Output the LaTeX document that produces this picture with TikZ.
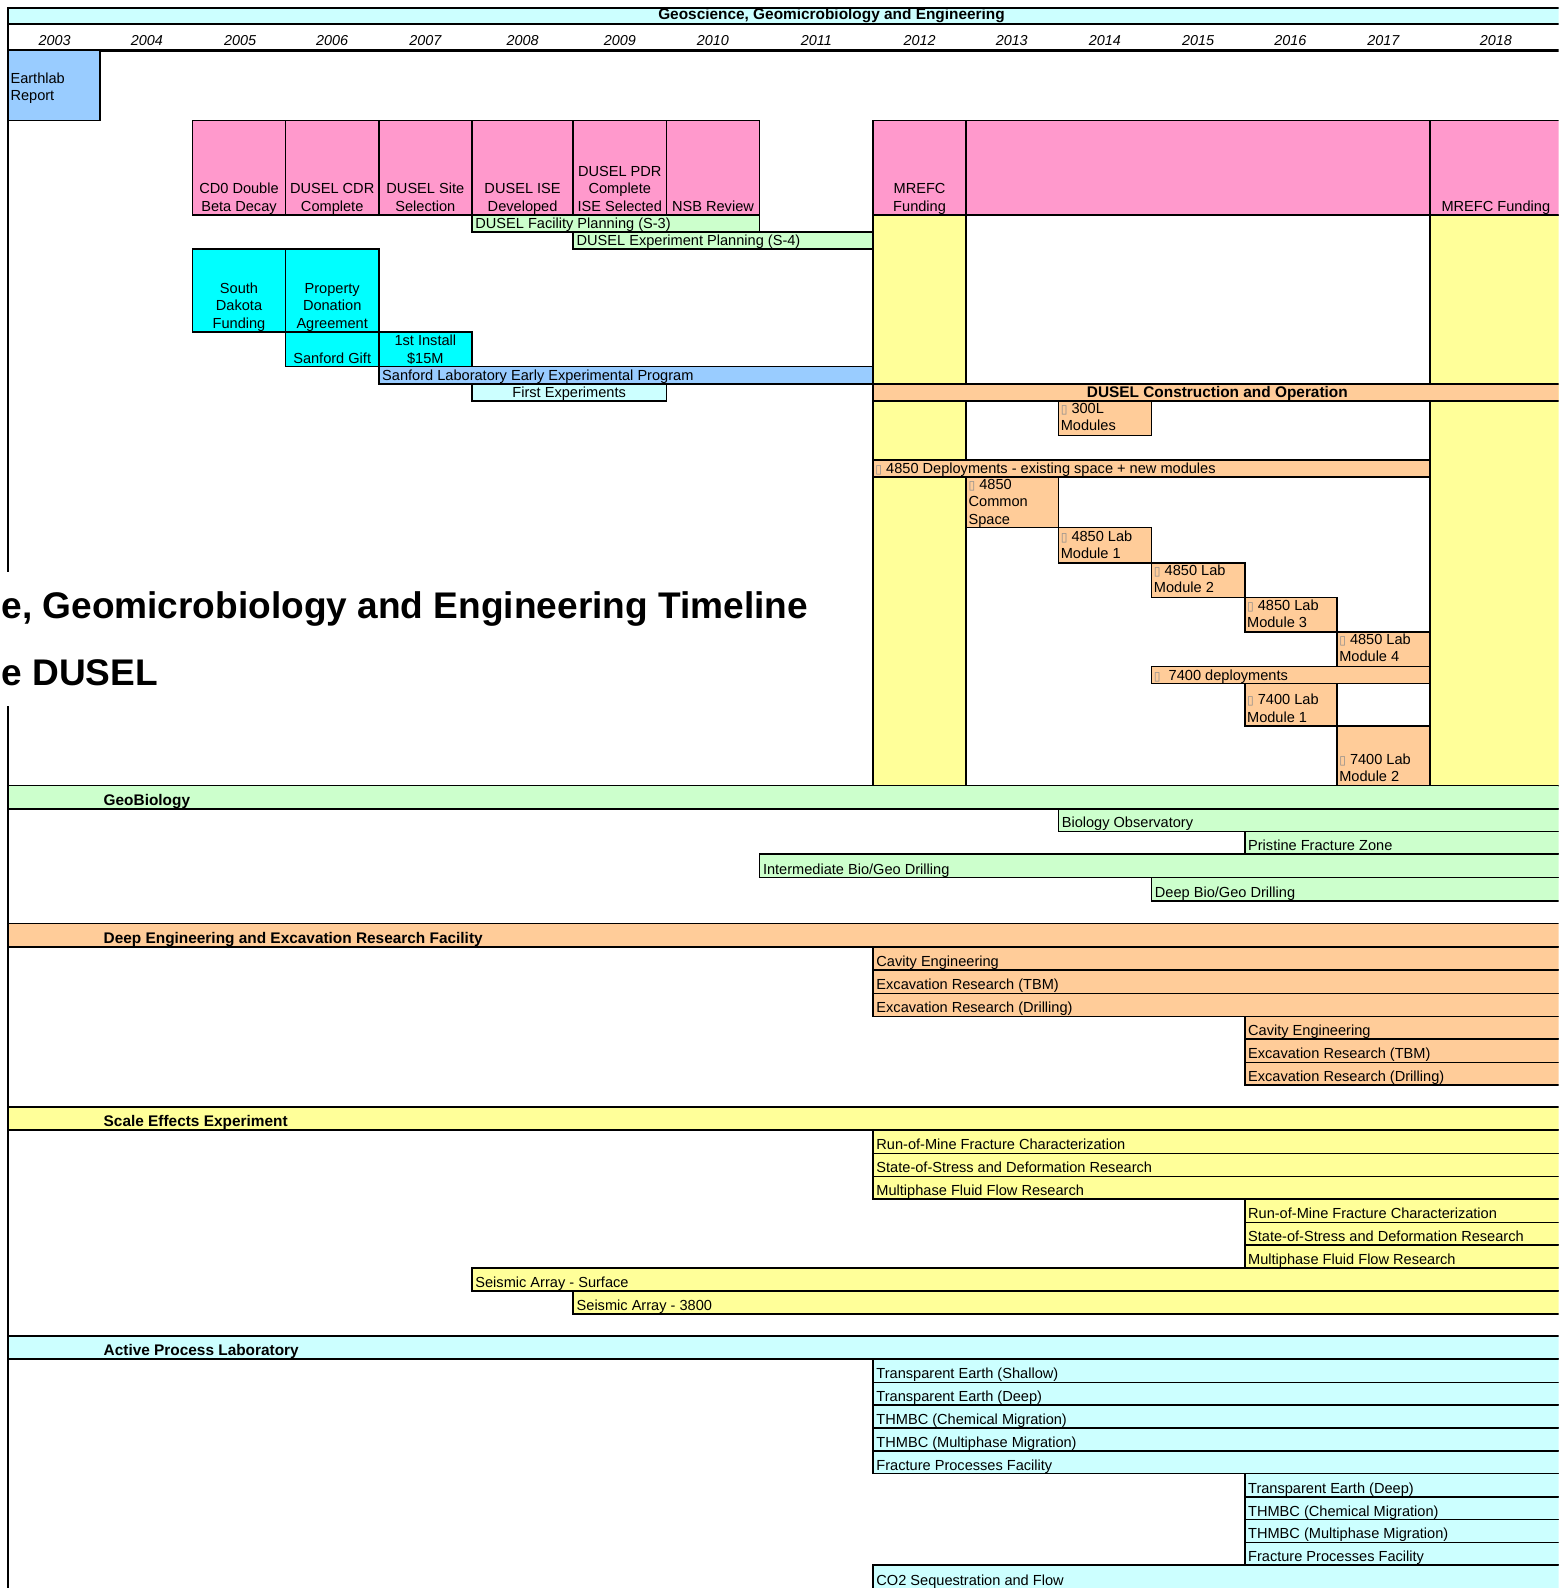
\documentclass[tikz,border=0pt]{standalone}
\usepackage{fontspec}
\setmainfont{Liberation Sans}
\newfontfamily\djv{DejaVu Sans}
\definecolor{ltcyan}{HTML}{CCFFFF}
\definecolor{pinkc}{HTML}{FF99CC}
\definecolor{ltblue}{HTML}{99CCFF}
\definecolor{cyanc}{HTML}{00FFFF}
\definecolor{ltgreen}{HTML}{CCFFCC}
\definecolor{yel}{HTML}{FFFF99}
\definecolor{peach}{HTML}{FFCC99}
\newcommand\tofu{{\djv\color{black!45}\fontsize{6}{6}\selectfont\symbol{"25AF}}}
\tikzset{
  lbl/.style={inner sep=0pt, font=\fontsize{7.2}{8.5}\selectfont},
  hdr/.style={inner sep=0pt, font=\fontsize{7.6}{8.5}\selectfont\bfseries},
  yrs/.style={inner sep=0pt, font=\fontsize{7.1}{8.5}\selectfont\itshape},
  bigtitle/.style={inner sep=0pt, font=\fontsize{18.3}{22}\selectfont\bfseries},
  bx/.style={draw=black, line width=0.8pt},
}
\newcommand\mlines[5]{%
  \foreach \tx [count=\ii from 0] in {#5}{%
    \node[lbl, anchor=#2] (#1\ii) at (#3,#4+17*\ii) {\tx};}}
\newcommand\tlrow[6]{%
  \path[bx, fill=#5] (#2,#3) rectangle (1550,#4);
  \node[lbl, anchor=base west] (#1) at (#2+3,#4-3.5) {#6};}
\newcommand\tlhead[5]{%
  \path[bx, fill=#4] (8,#2) rectangle (1550,#3);
  \node[hdr, anchor=base west] (#1) at (102,#3-3.5) {#5};}
\begin{document}
\begin{tikzpicture}[x=0.5pt,y=-0.5pt]
\clip (0,0) rectangle (1539,1568);
\fill[white] (0,0) rectangle (1539,1568);
% title band and years
\path[bx, fill=ltcyan] (8,8) rectangle (1550,24);
\node[hdr, anchor=base] (ttl) at (821,19.5) {Geoscience, Geomicrobiology and Engineering};
\foreach \yr/\cx in {2003/54,2004/145,2005/237,2006/328,2007/420,2008/516,2009/612,2010/704,2011/806,2012/908,2013/999,2014/1091,2015/1183,2016/1274,2017/1366,2018/1477}
  \node[yrs, anchor=base] (y\yr) at (\cx,45) {\yr};
\draw[line width=1.3pt] (8,50) -- (1550,50);
\draw[line width=0.8pt] (8,8) -- (8,1570);
% Earthlab
\path[bx, fill=ltblue] (8,50) rectangle (99,119);
\mlines{earth}{base west}{10}{82.5}{Earthlab,Report}
% pink milestones
\foreach \a/\b in {190/282,282/374,374/466,466/566,566/658,658/750}
  \path[bx, fill=pinkc] (\a,119) rectangle (\b,212);
\mlines{cd}{base}{236}{191.5}{CD0 Double,Beta Decay}
\mlines{cdr}{base}{328}{191.5}{DUSEL CDR,Complete}
\mlines{site}{base}{420}{191.5}{DUSEL Site,Selection}
\mlines{ise}{base}{516}{191.5}{DUSEL ISE,Developed}
\mlines{pdr}{base}{612}{174.5}{DUSEL PDR,Complete,ISE Selected}
\mlines{nsb}{base}{704}{208.5}{NSB Review}
% planning bars
\path[bx, fill=ltgreen] (466,212) rectangle (750,229);
\node[lbl, anchor=base west] (fac) at (469,225.5) {DUSEL Facility Planning (S-3)};
\path[bx, fill=ltgreen] (566,229) rectangle (862,246);
\node[lbl, anchor=base west] (exp) at (569,242.5) {DUSEL Experiment Planning (S-4)};
% cyan boxes
\path[bx, fill=cyanc] (190,246) rectangle (282,328);
\path[bx, fill=cyanc] (282,246) rectangle (374,328);
\mlines{sd}{base}{236}{290}{South,Dakota,Funding}
\mlines{prop}{base}{328}{290}{Property,Donation,Agreement}
\path[bx, fill=cyanc] (282,328) rectangle (374,362);
\path[bx, fill=cyanc] (374,328) rectangle (466,362);
\mlines{gift}{base}{328}{358.5}{Sanford Gift}
\mlines{inst}{base}{420}{341.5}{1st Install,\$15M}
\path[bx, fill=ltblue] (374,362) rectangle (862,379);
\node[lbl, anchor=base west] (sle) at (377,375.5) {Sanford Laboratory Early Experimental Program};
\path[bx, fill=ltcyan] (466,379) rectangle (658,396);
\node[lbl, anchor=base] (fe) at (562,392.5) {First Experiments};
% right panel
\path[bx, fill=yel] (862,212) rectangle (954,776);
\path[bx, fill=yel] (1412,212) rectangle (1550,776);
\path[bx] (954,212) rectangle (1412,776);
\path[bx, fill=pinkc] (862,119) rectangle (954,212);
\path[bx, fill=pinkc] (954,119) rectangle (1412,212);
\path[bx, fill=pinkc] (1412,119) rectangle (1550,212);
\mlines{mref}{base}{908}{191.5}{MREFC,Funding}
\mlines{mreg}{base}{1477}{208.5}{MREFC Funding}
\path[bx, fill=peach] (862,379) rectangle (1550,396);
\node[hdr, anchor=base] (dco) at (1202,392.5) {DUSEL Construction and Operation};
\path[bx, fill=peach] (1045,396) rectangle (1137,430);
\mlines{l300}{base west}{1047}{408.5}{\tofu\ 300L,Modules}
\path[bx, fill=peach] (862,454) rectangle (1412,471);
\node[lbl, anchor=base west] (dep) at (864,467.5) {\tofu\ 4850 Deployments - existing space + new modules};
\path[bx, fill=peach] (954,471) rectangle (1045,521);
\mlines{cs}{base west}{956}{483.5}{\tofu\ 4850,Common,Space}
\path[bx, fill=peach] (1045,521) rectangle (1137,556);
\mlines{ma}{base west}{1047}{534.5}{\tofu\ 4850 Lab,Module 1}
\path[bx, fill=peach] (1137,556) rectangle (1229,590);
\mlines{mb}{base west}{1139}{568.5}{\tofu\ 4850 Lab,Module 2}
\path[bx, fill=peach] (1229,590) rectangle (1320,624);
\mlines{mc}{base west}{1231}{602.5}{\tofu\ 4850 Lab,Module 3}
\path[bx, fill=peach] (1320,624) rectangle (1412,658);
\mlines{md}{base west}{1322}{636.5}{\tofu\ 4850 Lab,Module 4}
\path[bx, fill=peach] (1137,658) rectangle (1412,675);
\node[lbl, anchor=base west] (d74) at (1139,671.5) {\tofu\ \ 7400 deployments};
\path[bx, fill=peach] (1229,675) rectangle (1320,717);
\mlines{na}{base west}{1231}{696}{\tofu\ 7400 Lab,Module 1}
\path[bx, fill=peach] (1320,717) rectangle (1412,776);
\mlines{nb}{base west}{1322}{754.5}{\tofu\ 7400 Lab,Module 2}
% GeoBiology
\tlhead{hgb}{775.5}{798.5}{ltgreen}{GeoBiology}
\tlrow{gb1}{1045}{798.5}{821}{ltgreen}{Biology Observatory}
\tlrow{gb2}{1229}{821}{843.5}{ltgreen}{Pristine Fracture Zone}
\tlrow{gb3}{750}{843.5}{866.5}{ltgreen}{Intermediate Bio/Geo Drilling}
\tlrow{gb4}{1137}{866.5}{889.5}{ltgreen}{Deep Bio/Geo Drilling}
% Deep engineering
\tlhead{hde}{912}{935}{peach}{Deep Engineering and Excavation Research Facility}
\tlrow{de1}{862}{935}{958}{peach}{Cavity Engineering}
\tlrow{de2}{862}{958}{981}{peach}{Excavation Research (TBM)}
\tlrow{de3}{862}{981}{1003.5}{peach}{Excavation Research (Drilling)}
\tlrow{de4}{1229}{1003.5}{1026}{peach}{Cavity Engineering}
\tlrow{de5}{1229}{1026}{1049}{peach}{Excavation Research (TBM)}
\tlrow{de6}{1229}{1049}{1071.5}{peach}{Excavation Research (Drilling)}
% Scale effects
\tlhead{hse}{1093}{1116}{yel}{Scale Effects Experiment}
\tlrow{se1}{862}{1116}{1139}{yel}{Run-of-Mine Fracture Characterization}
\tlrow{se2}{862}{1139}{1161.5}{yel}{State-of-Stress and Deformation Research}
\tlrow{se3}{862}{1161.5}{1184}{yel}{Multiphase Fluid Flow Research}
\tlrow{se4}{1229}{1184}{1207}{yel}{Run-of-Mine Fracture Characterization}
\tlrow{se5}{1229}{1207}{1229.5}{yel}{State-of-Stress and Deformation Research}
\tlrow{se6}{1229}{1229.5}{1252}{yel}{Multiphase Fluid Flow Research}
\tlrow{se7}{466}{1252}{1275}{yel}{Seismic Array - Surface}
\tlrow{se8}{566}{1275}{1297.5}{yel}{Seismic Array - 3800}
% Active process
\tlhead{hap}{1319}{1342}{ltcyan}{Active Process Laboratory}
\tlrow{ap1}{862}{1342}{1365}{ltcyan}{Transparent Earth (Shallow)}
\tlrow{ap2}{862}{1365}{1387.5}{ltcyan}{Transparent Earth (Deep)}
\tlrow{ap3}{862}{1387.5}{1410}{ltcyan}{THMBC (Chemical Migration)}
\tlrow{ap4}{862}{1410}{1432.5}{ltcyan}{THMBC (Multiphase Migration)}
\tlrow{ap5}{862}{1432.5}{1455}{ltcyan}{Fracture Processes Facility}
\tlrow{ap6}{1229}{1455}{1478}{ltcyan}{Transparent Earth (Deep)}
\tlrow{ap7}{1229}{1478}{1500.5}{ltcyan}{THMBC (Chemical Migration)}
\tlrow{ap8}{1229}{1500.5}{1523}{ltcyan}{THMBC (Multiphase Migration)}
\tlrow{ap9}{1229}{1523}{1545.5}{ltcyan}{Fracture Processes Facility}
\tlrow{ap10}{862}{1545.5}{1569}{ltcyan}{CO2 Sequestration and Flow}
% big title overlay
\fill[white] (0,565) rectangle (810,697);
\node[bigtitle, anchor=base west] (big1) at (1,611) {e, Geomicrobiology and Engineering Timeline};
\node[bigtitle, anchor=base west] (big2) at (1,677) {e DUSEL};
\end{tikzpicture}
\end{document}
